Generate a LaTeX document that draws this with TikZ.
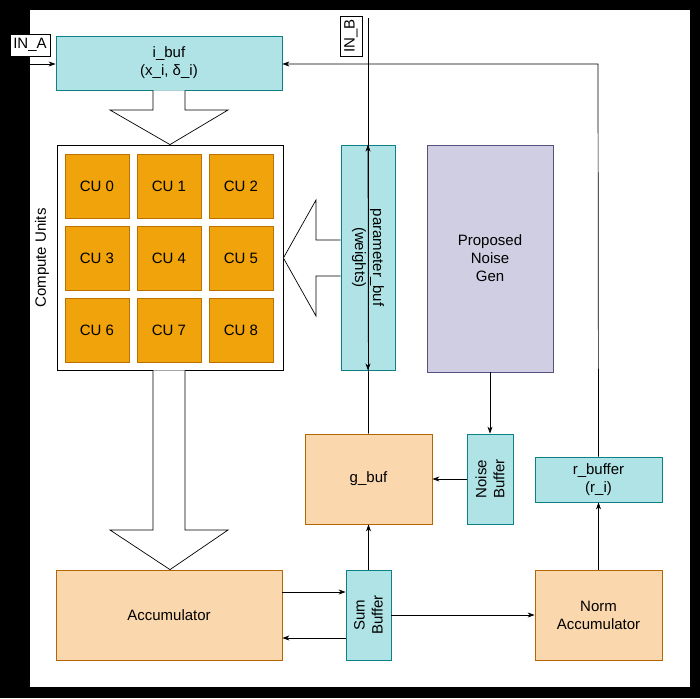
\documentclass[tikz,border=0pt]{standalone}
\usepackage{fontspec}
\setmainfont{Liberation Sans}
\usetikzlibrary{arrows.meta}
\definecolor{cyanf}{HTML}{B0E3E6}\definecolor{cyand}{HTML}{0E8088}
\definecolor{oranf}{HTML}{F0A30A}\definecolor{orand}{HTML}{BD7000}
\definecolor{peachf}{HTML}{FAD7AC}\definecolor{peachd}{HTML}{B46504}
\definecolor{purf}{HTML}{D0CEE2}\definecolor{purd}{HTML}{56517E}
\begin{document}
\begin{tikzpicture}[x=1pt,y=-1pt,font=\fontsize{15}{18}\selectfont,
 box/.style={draw,line width=0.8pt,inner sep=0pt,align=center},
 cyanbox/.style={box,fill=cyanf,draw=cyand},
 peachbox/.style={box,fill=peachf,draw=peachd},
 cubox/.style={box,fill=oranf,draw=orand,line width=1pt},
 conn/.style={-{Stealth[length=7pt,width=5pt]},line width=0.7pt},
 bigarrow/.style={fill=white,draw=black,line width=0.7pt}]
\fill[black] (0,0) rectangle (700,698);
\fill[white] (30,10) rectangle (690,687);
\useasboundingbox (0,0) rectangle (700,698);
% boxes
\node[cyanbox,minimum width=226pt,minimum height=54pt] (ibuf) at (169,63) {i\_buf\\(x\_i, δ\_i)};
\node[box,fill=white,minimum width=40pt,minimum height=22pt] (ina) at (30,45) {IN\_A};
\node[box,fill=white,minimum width=40pt,minimum height=22pt,rotate=90] (inb) at (351,36) {IN\_B};
\coordinate (inastart) at (30,64);
\coordinate (inbstart) at (368,18);
\node[box,fill=white,draw=black,minimum width=226pt,minimum height=225pt] (cuarea) at (170,257.5) {};
\node[rotate=90] (culbl) at (42,258) {Compute Units};
\foreach \r in {0,1,2}{\foreach \c in {0,1,2}{
 \pgfmathtruncatemacro{\n}{3*\r+\c}
 \node[cubox,minimum width=64pt,minimum height=64pt] (cu\n) at (97+72*\c,186+72*\r) {CU \n};}}
\node[cyanbox,minimum width=225pt,minimum height=54pt,rotate=-90] (pbuf) at (368,257.5) {parameter\_buf\\(weights)};
\node[box,fill=purf,draw=purd,minimum width=126pt,minimum height=227pt] (noise) at (490,258.5) {Proposed\\Noise\\Gen};
\node[cyanbox,minimum width=90pt,minimum height=46pt,rotate=90] (nbuf) at (490,479) {Noise\\Buffer};
\node[peachbox,minimum width=127pt,minimum height=90pt] (gbuf) at (368.5,479) {g\_buf};
\node[cyanbox,minimum width=127pt,minimum height=45pt] (rbuf) at (598.5,479.5) {r\_buffer\\(r\_i)};
\node[peachbox,minimum width=226pt,minimum height=90pt] (acc) at (169,615) {Accumulator};
\node[cyanbox,minimum width=90pt,minimum height=45pt,rotate=90] (sbuf) at (368.5,615) {Sum\\Buffer};
\node[peachbox,minimum width=127pt,minimum height=90pt] (norm) at (598.5,615) {Norm\\Accumulator};
% block arrows
\draw[bigarrow] (153,90.4) -- (153,110) -- (110,110) -- (170,144.6) -- (228,110) -- (185,110) -- (185,90.4);
\draw[bigarrow] (153,370.4) -- (153,530) -- (110,530) -- (170,569.6) -- (228,530) -- (185,530) -- (185,370.4);
\draw[bigarrow] (340.6,240) -- (316,240) -- (316,200) -- (283.4,258) -- (316,316) -- (316,276) -- (340.6,276);
% connectors
\draw[conn] (inastart) -- (ibuf.west |- inastart);
\draw[conn] (inbstart) -- (pbuf.east);
\draw[conn] (rbuf.north) -- (598,64) -- (ibuf.east |- 0,64);
\draw[conn] (noise.south) -- (nbuf.east);
\draw[conn] (nbuf.north) -- (gbuf.east);
\draw[conn] (gbuf.north) -- (pbuf.west);
\draw[conn] (sbuf.east) -- (gbuf.south);
\draw[conn] (norm.north) -- (rbuf.south);
\draw[conn] (acc.east |- 0,592) -- (sbuf.north |- 0,592);
\draw[conn] (sbuf.north |- 0,638) -- (acc.east |- 0,638);
\draw[conn] (sbuf.south |- norm.west) -- (norm.west);
\end{tikzpicture}
\end{document}
